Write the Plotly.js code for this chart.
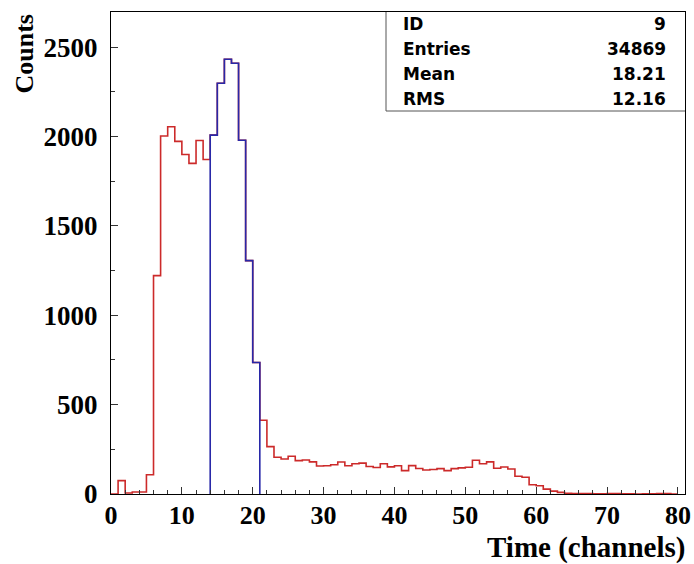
<!DOCTYPE html>
<html>
<head>
<meta charset="utf-8">
<script src="https://cdn.plot.ly/plotly-3.0.1.min.js"></script>
<style>html,body{margin:0;padding:0;background:#fff;}#chart{width:694px;height:564px;}</style>
</head>
<body>
<div id="chart"></div>
<script>
// Bin lower edges 0..79 (width 1 channel)
var binStart = 0;
var binWidth = 1;
var counts = [
  0, 75, 6, 11, 11, 108, 1222, 2003, 2055, 1973,
  1900, 1850, 1978, 1872, 2008, 2298, 2433, 2410, 1979, 1306,
  736, 413, 265, 206, 196, 211, 187, 190, 180, 157,
  158, 164, 179, 158, 169, 173, 154, 148, 169, 152,
  158, 131, 159, 143, 134, 137, 142, 131, 142, 146,
  150, 189, 169, 180, 144, 151, 140, 99, 94, 52,
  46, 27, 16, 9, 4, 3, 2, 2, 1, 1,
  3, 3, 1, 1, 0, 1, 1, 3, 2, 0
];
// Gated region (blue) bins
var gateFirstBin = 14;
var gateLastBin = 20;

var statLabels = ["ID", "Entries", "Mean", "RMS"];
var statValues = ["9", "34869", "18.21", "12.16"];

var xTitle = "Time (channels)";
var yTitle = "Counts";

// Build step outline of the full histogram
var rx = [], ry = [];
for (var i = 0; i < counts.length; i++) {
  rx.push(binStart + i * binWidth);
  ry.push(counts[i]);
}
rx.push(binStart + counts.length * binWidth);
ry.push(counts[counts.length - 1]);

// Build step outline of gated part
var bx = [binStart + gateFirstBin * binWidth], by = [0];
for (var j = gateFirstBin; j <= gateLastBin; j++) {
  bx.push(binStart + j * binWidth);
  by.push(counts[j]);
}
bx.push(binStart + (gateLastBin + 1) * binWidth); by.push(counts[gateLastBin]);
bx.push(binStart + (gateLastBin + 1) * binWidth); by.push(0);

var traces = [
  {x: rx, y: ry, type: 'scatter', mode: 'lines', line: {shape: 'hv', color: '#cc2a2a', width: 1.6}, hoverinfo: 'skip'},
  {x: bx, y: by, type: 'scatter', mode: 'lines', line: {shape: 'hv', color: '#2828a8', width: 1.6}, hoverinfo: 'skip'}
];

var L = 111, R = 685, T = 12, B = 494, W = 694, H = 564;
function px2x(p) { return (p - L) / (R - L); }
function py2y(p) { return (B - p) / (B - T); }

var annotations = [];
var rowY = [24, 49, 74, 99];
for (var k = 0; k < statLabels.length; k++) {
  annotations.push({xref: 'paper', yref: 'paper', x: px2x(401), y: py2y(rowY[k]), xanchor: 'left', yanchor: 'middle',
    text: '<b>' + statLabels[k] + '</b>', showarrow: false, font: {family: 'DejaVu Sans, sans-serif', size: 17, color: '#000'}});
  annotations.push({xref: 'paper', yref: 'paper', x: px2x(668), y: py2y(rowY[k]), xanchor: 'right', yanchor: 'middle',
    text: '<b>' + statValues[k] + '</b>', showarrow: false, font: {family: 'DejaVu Sans, sans-serif', size: 17, color: '#000'}});
}
annotations.push({xref: 'paper', yref: 'paper', x: px2x(686), y: py2y(547), xanchor: 'right', yanchor: 'middle',
  text: '<b>' + xTitle + '</b>', showarrow: false, borderpad: 0, font: {family: 'Liberation Serif, Times New Roman, serif', size: 29, color: '#000'}});
annotations.push({xref: 'paper', yref: 'paper', x: px2x(24), y: py2y(13), xanchor: 'center', yanchor: 'top', textangle: -90,
  text: '<b>' + yTitle + '</b>', showarrow: false, font: {family: 'Liberation Serif, Times New Roman, serif', size: 26, color: '#000'}});

var layout = {
  width: W, height: H,
  margin: {l: L, r: W - R, t: T, b: H - B, pad: 0},
  paper_bgcolor: '#fff', plot_bgcolor: '#fff',
  showlegend: false,
  xaxis: {
    range: [0, 81], showgrid: false, zeroline: false,
    showline: true, mirror: true, linecolor: '#000', linewidth: 1,
    ticks: 'inside', ticklen: 7, tickcolor: '#333', tickwidth: 1,
    tick0: 0, dtick: 10,
    minor: {ticks: 'inside', ticklen: 4, dtick: 2, tickcolor: '#333', tickwidth: 1, showgrid: false},
    tickfont: {family: 'Liberation Serif, Times New Roman, serif', size: 26, color: '#000', weight: 'bold'},
    ticklabelstandoff: -2
  },
  yaxis: {
    range: [0, 2697], showgrid: false, zeroline: false,
    showline: true, mirror: true, linecolor: '#000', linewidth: 1,
    ticks: 'inside', ticklen: 7, tickcolor: '#333', tickwidth: 1,
    tick0: 0, dtick: 500,
    minor: {ticks: 'inside', ticklen: 4, dtick: 250, tickcolor: '#333', tickwidth: 1, showgrid: false},
    tickfont: {family: 'Liberation Serif, Times New Roman, serif', size: 27, color: '#000', weight: 'bold'},
    ticklabelstandoff: 7
  },
  shapes: [
    {type: 'line', xref: 'paper', yref: 'paper', x0: px2x(386), x1: px2x(386), y0: py2y(T), y1: py2y(111), line: {color: '#555', width: 1}},
    {type: 'line', xref: 'paper', yref: 'paper', x0: px2x(386), x1: 1, y0: py2y(111), y1: py2y(111), line: {color: '#555', width: 1}}
  ],
  annotations: annotations
};

Plotly.newPlot('chart', traces, layout, {staticPlot: true, displayModeBar: false});
</script>
</body>
</html>
